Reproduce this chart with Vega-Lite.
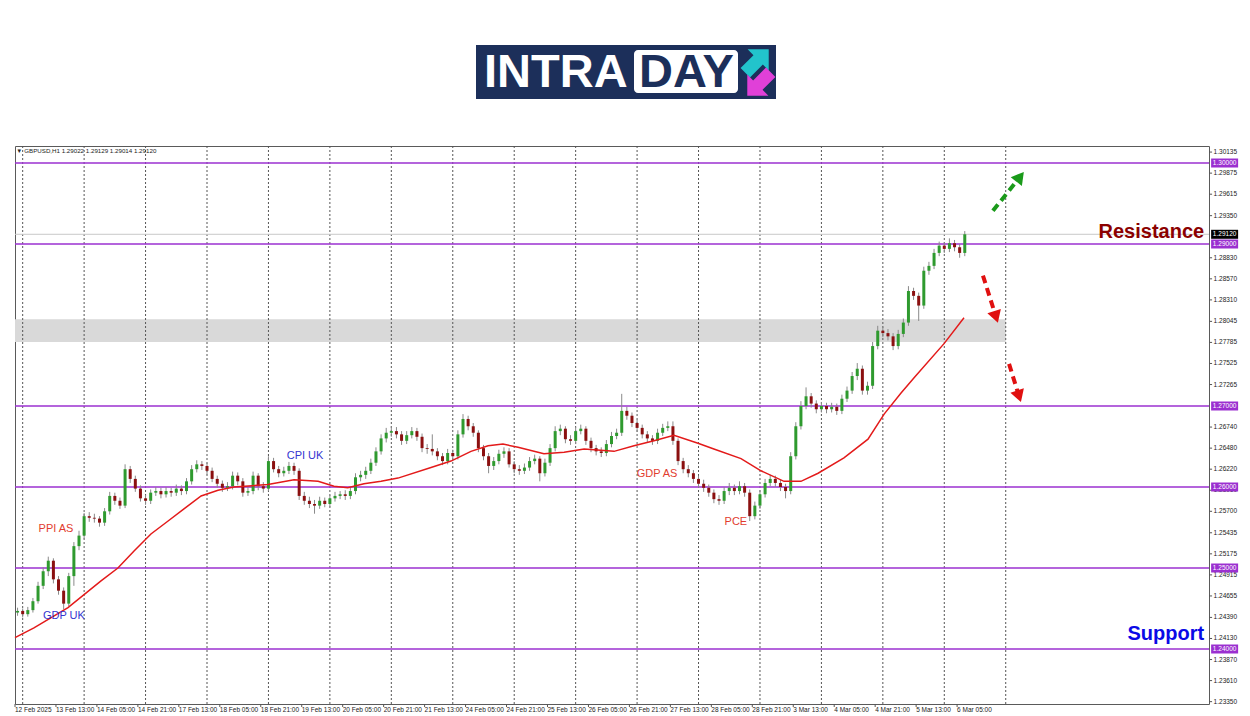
{
"$schema":"https://vega.github.io/schema/vega-lite/v6.json",
"background":"white",
"padding":{"left":11,"top":0,"right":0,"bottom":0},
"spacing":0,
"config":{"view":{"stroke":"#5a5a5a","strokeWidth":1},"font":"Liberation Sans"},
"datasets":{
"candles":[
{"i":1,"o":1.2445,"h":1.2451,"l":1.2441,"c":1.2447},{"i":3,"o":1.2447,"h":1.2450,"l":1.2439,"c":1.2443},{"i":5,"o":1.2443,"h":1.2452,"l":1.2440,"c":1.2448},{"i":7,"o":1.2448,"h":1.2463,"l":1.2445,"c":1.2459},{"i":9,"o":1.2459,"h":1.2483,"l":1.2456,"c":1.2478},{"i":11,"o":1.2478,"h":1.2501,"l":1.2474,"c":1.2496},{"i":13,"o":1.2496,"h":1.2514,"l":1.2490,"c":1.2509},{"i":15,"o":1.2509,"h":1.2512,"l":1.2481,"c":1.2486},{"i":17,"o":1.2486,"h":1.2490,"l":1.2467,"c":1.2472},{"i":19,"o":1.2472,"h":1.2476,"l":1.2449,"c":1.2456},
{"i":21,"o":1.2456,"h":1.2494,"l":1.2453,"c":1.2490},{"i":23,"o":1.2490,"h":1.2532,"l":1.2478,"c":1.2527},{"i":25,"o":1.2527,"h":1.2546,"l":1.2522,"c":1.2540},{"i":27,"o":1.2540,"h":1.2568,"l":1.2536,"c":1.2564},{"i":29,"o":1.2564,"h":1.2569,"l":1.2557,"c":1.2562},{"i":31,"o":1.2562,"h":1.2567,"l":1.2556,"c":1.2561},{"i":33,"o":1.2561,"h":1.2564,"l":1.2551,"c":1.2556},{"i":35,"o":1.2556,"h":1.2574,"l":1.2552,"c":1.2570},{"i":37,"o":1.2570,"h":1.2594,"l":1.2566,"c":1.2589},{"i":39,"o":1.2589,"h":1.2593,"l":1.2578,"c":1.2583},
{"i":41,"o":1.2583,"h":1.2587,"l":1.2573,"c":1.2577},{"i":43,"o":1.2577,"h":1.2628,"l":1.2574,"c":1.2622},{"i":45,"o":1.2622,"h":1.2626,"l":1.2605,"c":1.2610},{"i":47,"o":1.2610,"h":1.2614,"l":1.2594,"c":1.2598},{"i":49,"o":1.2598,"h":1.2602,"l":1.2582,"c":1.2586},{"i":51,"o":1.2586,"h":1.2590,"l":1.2578,"c":1.2583},{"i":53,"o":1.2583,"h":1.2597,"l":1.2579,"c":1.2593},{"i":55,"o":1.2593,"h":1.2600,"l":1.2589,"c":1.2595},{"i":57,"o":1.2595,"h":1.2599,"l":1.2586,"c":1.2591},{"i":59,"o":1.2591,"h":1.2600,"l":1.2587,"c":1.2595},
{"i":61,"o":1.2595,"h":1.2599,"l":1.2588,"c":1.2593},{"i":63,"o":1.2593,"h":1.2603,"l":1.2589,"c":1.2598},{"i":65,"o":1.2598,"h":1.2602,"l":1.2590,"c":1.2595},{"i":67,"o":1.2595,"h":1.2611,"l":1.2591,"c":1.2607},{"i":69,"o":1.2607,"h":1.2627,"l":1.2603,"c":1.2622},{"i":71,"o":1.2622,"h":1.2633,"l":1.2618,"c":1.2628},{"i":73,"o":1.2628,"h":1.2632,"l":1.2621,"c":1.2626},{"i":75,"o":1.2626,"h":1.2630,"l":1.2615,"c":1.2620},{"i":77,"o":1.2620,"h":1.2624,"l":1.2606,"c":1.2610},{"i":79,"o":1.2610,"h":1.2614,"l":1.2599,"c":1.2604},
{"i":81,"o":1.2604,"h":1.2608,"l":1.2594,"c":1.2599},{"i":83,"o":1.2599,"h":1.2606,"l":1.2595,"c":1.2601},{"i":85,"o":1.2601,"h":1.2619,"l":1.2597,"c":1.2614},{"i":87,"o":1.2614,"h":1.2618,"l":1.2602,"c":1.2607},{"i":89,"o":1.2607,"h":1.2611,"l":1.2588,"c":1.2593},{"i":91,"o":1.2593,"h":1.2600,"l":1.2589,"c":1.2595},{"i":93,"o":1.2595,"h":1.2619,"l":1.2591,"c":1.2614},{"i":95,"o":1.2614,"h":1.2617,"l":1.2596,"c":1.2601},{"i":97,"o":1.2601,"h":1.2606,"l":1.2593,"c":1.2598},{"i":99,"o":1.2598,"h":1.2638,"l":1.2595,"c":1.2632},
{"i":101,"o":1.2632,"h":1.2636,"l":1.2618,"c":1.2622},{"i":103,"o":1.2622,"h":1.2626,"l":1.2612,"c":1.2617},{"i":105,"o":1.2617,"h":1.2625,"l":1.2613,"c":1.2620},{"i":107,"o":1.2620,"h":1.2631,"l":1.2616,"c":1.2626},{"i":109,"o":1.2626,"h":1.2630,"l":1.2615,"c":1.2620},{"i":111,"o":1.2620,"h":1.2623,"l":1.2584,"c":1.2589},{"i":113,"o":1.2589,"h":1.2594,"l":1.2578,"c":1.2583},{"i":115,"o":1.2583,"h":1.2588,"l":1.2574,"c":1.2579},{"i":117,"o":1.2579,"h":1.2584,"l":1.2567,"c":1.2577},{"i":119,"o":1.2577,"h":1.2588,"l":1.2573,"c":1.2583},
{"i":121,"o":1.2583,"h":1.2587,"l":1.2575,"c":1.2579},{"i":123,"o":1.2579,"h":1.2590,"l":1.2575,"c":1.2586},{"i":125,"o":1.2586,"h":1.2594,"l":1.2582,"c":1.2589},{"i":127,"o":1.2589,"h":1.2595,"l":1.2585,"c":1.2591},{"i":129,"o":1.2591,"h":1.2596,"l":1.2584,"c":1.2589},{"i":131,"o":1.2589,"h":1.2600,"l":1.2585,"c":1.2595},{"i":133,"o":1.2595,"h":1.2617,"l":1.2591,"c":1.2612},{"i":135,"o":1.2612,"h":1.2620,"l":1.2607,"c":1.2615},{"i":137,"o":1.2615,"h":1.2625,"l":1.2610,"c":1.2620},{"i":139,"o":1.2620,"h":1.2635,"l":1.2616,"c":1.2630},
{"i":141,"o":1.2630,"h":1.2649,"l":1.2626,"c":1.2644},{"i":143,"o":1.2644,"h":1.2665,"l":1.2640,"c":1.2660},{"i":145,"o":1.2660,"h":1.2673,"l":1.2655,"c":1.2667},{"i":147,"o":1.2667,"h":1.2675,"l":1.2662,"c":1.2669},{"i":149,"o":1.2669,"h":1.2674,"l":1.2660,"c":1.2665},{"i":151,"o":1.2665,"h":1.2669,"l":1.2652,"c":1.2657},{"i":153,"o":1.2657,"h":1.2669,"l":1.2653,"c":1.2664},{"i":155,"o":1.2664,"h":1.2674,"l":1.2660,"c":1.2669},{"i":157,"o":1.2669,"h":1.2673,"l":1.2657,"c":1.2662},{"i":159,"o":1.2662,"h":1.2666,"l":1.2643,"c":1.2648},
{"i":161,"o":1.2648,"h":1.2653,"l":1.2641,"c":1.2647},{"i":163,"o":1.2647,"h":1.2665,"l":1.2639,"c":1.2644},{"i":165,"o":1.2644,"h":1.2648,"l":1.2633,"c":1.2638},{"i":167,"o":1.2638,"h":1.2642,"l":1.2627,"c":1.2632},{"i":169,"o":1.2632,"h":1.2647,"l":1.2628,"c":1.2642},{"i":171,"o":1.2642,"h":1.2646,"l":1.2633,"c":1.2638},{"i":173,"o":1.2638,"h":1.2670,"l":1.2634,"c":1.2665},{"i":175,"o":1.2665,"h":1.2690,"l":1.2661,"c":1.2684},{"i":177,"o":1.2684,"h":1.2688,"l":1.2670,"c":1.2675},{"i":179,"o":1.2675,"h":1.2679,"l":1.2662,"c":1.2667},
{"i":181,"o":1.2667,"h":1.2670,"l":1.2643,"c":1.2648},{"i":183,"o":1.2648,"h":1.2652,"l":1.2633,"c":1.2638},{"i":185,"o":1.2638,"h":1.2642,"l":1.2617,"c":1.2626},{"i":187,"o":1.2626,"h":1.2637,"l":1.2621,"c":1.2632},{"i":189,"o":1.2632,"h":1.2646,"l":1.2628,"c":1.2641},{"i":191,"o":1.2641,"h":1.2649,"l":1.2636,"c":1.2644},{"i":193,"o":1.2644,"h":1.2648,"l":1.2624,"c":1.2628},{"i":195,"o":1.2628,"h":1.2632,"l":1.2617,"c":1.2622},{"i":197,"o":1.2622,"h":1.2627,"l":1.2615,"c":1.2620},{"i":199,"o":1.2620,"h":1.2629,"l":1.2616,"c":1.2624},
{"i":201,"o":1.2624,"h":1.2637,"l":1.2620,"c":1.2632},{"i":203,"o":1.2632,"h":1.2640,"l":1.2628,"c":1.2635},{"i":205,"o":1.2635,"h":1.2638,"l":1.2607,"c":1.2617},{"i":207,"o":1.2617,"h":1.2635,"l":1.2613,"c":1.2630},{"i":209,"o":1.2630,"h":1.2653,"l":1.2626,"c":1.2648},{"i":211,"o":1.2648,"h":1.2675,"l":1.2644,"c":1.2669},{"i":213,"o":1.2669,"h":1.2677,"l":1.2664,"c":1.2672},{"i":215,"o":1.2672,"h":1.2675,"l":1.2654,"c":1.2659},{"i":217,"o":1.2659,"h":1.2664,"l":1.2652,"c":1.2657},{"i":219,"o":1.2657,"h":1.2674,"l":1.2653,"c":1.2669},
{"i":221,"o":1.2669,"h":1.2677,"l":1.2665,"c":1.2672},{"i":223,"o":1.2672,"h":1.2675,"l":1.2652,"c":1.2657},{"i":225,"o":1.2657,"h":1.2661,"l":1.2643,"c":1.2648},{"i":227,"o":1.2648,"h":1.2652,"l":1.2639,"c":1.2644},{"i":229,"o":1.2644,"h":1.2649,"l":1.2637,"c":1.2642},{"i":231,"o":1.2642,"h":1.2658,"l":1.2638,"c":1.2653},{"i":233,"o":1.2653,"h":1.2668,"l":1.2649,"c":1.2663},{"i":235,"o":1.2663,"h":1.2672,"l":1.2659,"c":1.2667},{"i":237,"o":1.2667,"h":1.2715,"l":1.2663,"c":1.2694},{"i":239,"o":1.2694,"h":1.2699,"l":1.2683,"c":1.2688},
{"i":241,"o":1.2688,"h":1.2692,"l":1.2674,"c":1.2679},{"i":243,"o":1.2679,"h":1.2683,"l":1.2668,"c":1.2673},{"i":245,"o":1.2673,"h":1.2677,"l":1.2660,"c":1.2665},{"i":247,"o":1.2665,"h":1.2669,"l":1.2655,"c":1.2660},{"i":249,"o":1.2660,"h":1.2664,"l":1.2652,"c":1.2657},{"i":251,"o":1.2657,"h":1.2672,"l":1.2653,"c":1.2667},{"i":253,"o":1.2667,"h":1.2678,"l":1.2663,"c":1.2673},{"i":255,"o":1.2673,"h":1.2681,"l":1.2669,"c":1.2675},{"i":257,"o":1.2675,"h":1.2681,"l":1.2652,"c":1.2657},{"i":259,"o":1.2657,"h":1.2660,"l":1.2627,"c":1.2632},
{"i":261,"o":1.2632,"h":1.2636,"l":1.2617,"c":1.2622},{"i":263,"o":1.2622,"h":1.2627,"l":1.2612,"c":1.2617},{"i":265,"o":1.2617,"h":1.2621,"l":1.2605,"c":1.2610},{"i":267,"o":1.2610,"h":1.2614,"l":1.2599,"c":1.2604},{"i":269,"o":1.2604,"h":1.2609,"l":1.2594,"c":1.2599},{"i":271,"o":1.2599,"h":1.2603,"l":1.2588,"c":1.2593},{"i":273,"o":1.2593,"h":1.2597,"l":1.2580,"c":1.2585},{"i":275,"o":1.2585,"h":1.2590,"l":1.2578,"c":1.2583},{"i":277,"o":1.2583,"h":1.2600,"l":1.2579,"c":1.2595},{"i":279,"o":1.2595,"h":1.2605,"l":1.2590,"c":1.2599},
{"i":281,"o":1.2599,"h":1.2603,"l":1.2590,"c":1.2595},{"i":283,"o":1.2595,"h":1.2607,"l":1.2591,"c":1.2601},{"i":285,"o":1.2601,"h":1.2605,"l":1.2588,"c":1.2593},{"i":287,"o":1.2593,"h":1.2597,"l":1.2558,"c":1.2564},{"i":289,"o":1.2564,"h":1.2582,"l":1.2560,"c":1.2577},{"i":291,"o":1.2577,"h":1.2596,"l":1.2573,"c":1.2591},{"i":293,"o":1.2591,"h":1.2610,"l":1.2587,"c":1.2605},{"i":295,"o":1.2605,"h":1.2615,"l":1.2601,"c":1.2610},{"i":297,"o":1.2610,"h":1.2614,"l":1.2600,"c":1.2605},{"i":299,"o":1.2605,"h":1.2609,"l":1.2595,"c":1.2600},
{"i":301,"o":1.2600,"h":1.2604,"l":1.2586,"c":1.2595},{"i":303,"o":1.2595,"h":1.2643,"l":1.2591,"c":1.2638},{"i":305,"o":1.2638,"h":1.2680,"l":1.2634,"c":1.2675},{"i":307,"o":1.2675,"h":1.2706,"l":1.2671,"c":1.2700},{"i":309,"o":1.2700,"h":1.2723,"l":1.2696,"c":1.2712},{"i":311,"o":1.2712,"h":1.2716,"l":1.2698,"c":1.2703},{"i":313,"o":1.2703,"h":1.2707,"l":1.2691,"c":1.2696},{"i":315,"o":1.2696,"h":1.2705,"l":1.2692,"c":1.2700},{"i":317,"o":1.2700,"h":1.2704,"l":1.2691,"c":1.2696},{"i":319,"o":1.2696,"h":1.2704,"l":1.2692,"c":1.2699},
{"i":321,"o":1.2699,"h":1.2703,"l":1.2689,"c":1.2694},{"i":323,"o":1.2694,"h":1.2714,"l":1.2690,"c":1.2709},{"i":325,"o":1.2709,"h":1.2724,"l":1.2705,"c":1.2719},{"i":327,"o":1.2719,"h":1.2742,"l":1.2715,"c":1.2737},{"i":329,"o":1.2737,"h":1.2753,"l":1.2732,"c":1.2746},{"i":331,"o":1.2746,"h":1.2750,"l":1.2714,"c":1.2719},{"i":333,"o":1.2719,"h":1.2730,"l":1.2714,"c":1.2725},{"i":335,"o":1.2725,"h":1.2779,"l":1.2721,"c":1.2774},{"i":337,"o":1.2774,"h":1.2799,"l":1.2770,"c":1.2793},{"i":339,"o":1.2793,"h":1.2798,"l":1.2785,"c":1.2790},
{"i":341,"o":1.2790,"h":1.2795,"l":1.2781,"c":1.2786},{"i":343,"o":1.2786,"h":1.2790,"l":1.2769,"c":1.2774},{"i":345,"o":1.2774,"h":1.2794,"l":1.2770,"c":1.2789},{"i":347,"o":1.2789,"h":1.2808,"l":1.2785,"c":1.2803},{"i":349,"o":1.2803,"h":1.2848,"l":1.2799,"c":1.2842},{"i":351,"o":1.2842,"h":1.2846,"l":1.2831,"c":1.2836},{"i":353,"o":1.2836,"h":1.2840,"l":1.2805,"c":1.2824},{"i":355,"o":1.2824,"h":1.2872,"l":1.2820,"c":1.2867},{"i":357,"o":1.2867,"h":1.2878,"l":1.2862,"c":1.2873},{"i":359,"o":1.2873,"h":1.2894,"l":1.2869,"c":1.2889},
{"i":361,"o":1.2889,"h":1.2903,"l":1.2885,"c":1.2898},{"i":363,"o":1.2898,"h":1.2902,"l":1.2889,"c":1.2894},{"i":365,"o":1.2894,"h":1.2907,"l":1.2890,"c":1.2901},{"i":367,"o":1.2901,"h":1.2905,"l":1.2891,"c":1.2896},{"i":369,"o":1.2896,"h":1.2900,"l":1.2883,"c":1.2889},{"i":371,"o":1.2889,"h":1.2916,"l":1.2885,"c":1.2912}
],
"ma":[
{"i":0,"m":1.2414},{"i":7.4,"m":1.2426},{"i":20.7,"m":1.2451},{"i":33.6,"m":1.2484},{"i":40.2,"m":1.2500},{"i":46.5,"m":1.2521},{"i":53.1,"m":1.2542},{"i":59.8,"m":1.2558},{"i":66,"m":1.2573},{"i":72.7,"m":1.2589},{"i":79.3,"m":1.2596},{"i":85.5,"m":1.2600},{"i":98.8,"m":1.2603},{"i":109,"m":1.2609},{"i":118.4,"m":1.2607},{"i":124.6,"m":1.2601},{"i":130,"m":1.2599},{"i":136.3,"m":1.2604},{"i":143,"m":1.2607},{"i":149.6,"m":1.2611},{"i":162.5,"m":1.2624},{"i":170.3,"m":1.2632},{"i":178.1,"m":1.2644},{"i":184.8,"m":1.2651},{"i":190.6,"m":1.2653},{"i":196.5,"m":1.2649},{"i":206.6,"m":1.2641},{"i":214.5,"m":1.2643},{"i":222.3,"m":1.2647},{"i":234,"m":1.2644},{"i":241.8,"m":1.2651},{"i":249.6,"m":1.2657},{"i":257.4,"m":1.2664},{"i":266.8,"m":1.2654},{"i":273,"m":1.2647},{"i":283.6,"m":1.2635},{"i":291.4,"m":1.2620},{"i":300.4,"m":1.2607},{"i":307,"m":1.2607},{"i":313.7,"m":1.2617},{"i":323.8,"m":1.2636},{"i":333.2,"m":1.2659},{"i":339.5,"m":1.2690},{"i":346.1,"m":1.2716},{"i":351.2,"m":1.2735},{"i":362.9,"m":1.2777},{"i":370.7,"m":1.2809}
],
"levels":[{"p":1.30},{"p":1.29},{"p":1.27},{"p":1.26},{"p":1.25},{"p":1.24}],
"boxes":[{"p":1.30,"t":"1.30000","k":"lv"},{"p":1.2912,"t":"1.29120","k":"cur"},{"p":1.29,"t":"1.29000","k":"lv"},{"p":1.27,"t":"1.27000","k":"lv"},{"p":1.26,"t":"1.26000","k":"lv"},{"p":1.25,"t":"1.25000","k":"lv"},{"p":1.24,"t":"1.24000","k":"lv"}],
"yt":[{"p":1.30135},{"p":1.29875},{"p":1.29615},{"p":1.2935},{"p":1.2883},{"p":1.2857},{"p":1.2831},{"p":1.28045},{"p":1.27785},{"p":1.27525},{"p":1.27265},{"p":1.2674},{"p":1.2648},{"p":1.2622},{"p":1.2596},{"p":1.257},{"p":1.25435},{"p":1.25175},{"p":1.24915},{"p":1.24655},{"p":1.2439},{"p":1.2413},{"p":1.2387},{"p":1.2361},{"p":1.2335}],
"xt":[{"i":0,"t":"12 Feb 2025"},{"i":16,"t":"13 Feb 13:00"},{"i":32,"t":"14 Feb 05:00"},{"i":48,"t":"14 Feb 21:00"},{"i":64,"t":"17 Feb 13:00"},{"i":80,"t":"18 Feb 05:00"},{"i":96,"t":"18 Feb 21:00"},{"i":112,"t":"19 Feb 13:00"},{"i":128,"t":"20 Feb 05:00"},{"i":144,"t":"20 Feb 21:00"},{"i":160,"t":"21 Feb 13:00"},{"i":176,"t":"24 Feb 05:00"},{"i":192,"t":"24 Feb 21:00"},{"i":208,"t":"25 Feb 13:00"},{"i":224,"t":"26 Feb 05:00"},{"i":240,"t":"26 Feb 21:00"},{"i":256,"t":"27 Feb 13:00"},{"i":272,"t":"28 Feb 05:00"},{"i":288,"t":"28 Feb 21:00"},{"i":304,"t":"3 Mar 13:00"},{"i":320,"t":"4 Mar 05:00"},{"i":336,"t":"4 Mar 21:00"},{"i":352,"t":"5 Mar 13:00"},{"i":368,"t":"6 Mar 05:00"}],
"grid":[{"i":3},{"i":27},{"i":51},{"i":75},{"i":99},{"i":123},{"i":147},{"i":171},{"i":195},{"i":219},{"i":243},{"i":267},{"i":291},{"i":315},{"i":339},{"i":363},{"i":387}],
"ann":[{"i":16,"p":1.2548,"t":"PPI AS","g":"r"},{"i":19.1,"p":1.2441,"t":"GDP UK","g":"b"},{"i":113.3,"p":1.2638,"t":"CPI UK","g":"b"},{"i":250.8,"p":1.2616,"t":"GDP AS","g":"r"},{"i":281.6,"p":1.2557,"t":"PCE","g":"r"}],
"big":[{"i":464.5,"p":1.2915,"t":"Resistance","g":"res"},{"i":464.5,"p":1.2418,"t":"Support","g":"sup"}],
"up":[{"x":382.0,"y":1.2941,"x2":392.6,"y2":1.2983}],
"down":[{"x":378.1,"y":1.2861,"x2":383.2,"y2":1.2810},{"x":388.3,"y":1.2752,"x2":392.2,"y2":1.2712}]
},
"vconcat":[
{"width":1194,"height":145,"view":{"stroke":null},
"layer":[
{"data":{"values":[{}]},"mark":{"type":"rect","color":"#1c2f5a"},
"encoding":{"x":{"datum":461,"type":"quantitative","scale":{"domain":[0,1194],"nice":false,"zero":false,"padding":0},"axis":null},"x2":{"datum":761},"y":{"datum":45,"type":"quantitative","scale":{"domain":[145,0],"nice":false,"zero":false,"padding":0},"axis":null},"y2":{"datum":99}}},
{"data":{"values":[{}]},"mark":{"type":"rect","color":"#ffffff","cornerRadius":4},
"encoding":{"x":{"datum":619,"type":"quantitative","axis":null},"x2":{"datum":723},"y":{"datum":50,"type":"quantitative","axis":null},"y2":{"datum":93}}},
{"data":{"values":[{}]},"mark":{"type":"text","text":"INTRA","align":"left","baseline":"alphabetic","fontSize":47,"fontWeight":"bold","color":"#ffffff","font":"Liberation Sans"},
"encoding":{"x":{"datum":469,"type":"quantitative","axis":null},"y":{"datum":87,"type":"quantitative","axis":null}}},
{"data":{"values":[{}]},"mark":{"type":"text","text":"DAY","align":"left","baseline":"alphabetic","fontSize":47,"fontWeight":"bold","color":"#1c2f5a","font":"Liberation Sans"},
"encoding":{"x":{"datum":624,"type":"quantitative","axis":null},"y":{"datum":87,"type":"quantitative","axis":null}}},
{"data":{"values":[{}]},"mark":{"type":"point","filled":true,"opacity":1,"color":"#22c4cc","size":1100,"angle":45,"shape":"M-0.4,1L-0.4,-0.1L-0.9,-0.1L0,-1L0.9,-0.1L0.4,-0.1L0.4,1Z"},
"encoding":{"x":{"datum":742,"type":"quantitative","axis":null},"y":{"datum":61,"type":"quantitative","axis":null}}},
{"data":{"values":[{}]},"mark":{"type":"point","filled":true,"opacity":1,"color":"#e040d8","size":1100,"angle":225,"shape":"M-0.4,1L-0.4,-0.1L-0.9,-0.1L0,-1L0.9,-0.1L0.4,-0.1L0.4,1Z"},
"encoding":{"x":{"datum":744,"type":"quantitative","axis":null},"y":{"datum":84,"type":"quantitative","axis":null}}}
]},
{"width":1194,"height":558,
"layer":[
{"data":{"values":[{}]},"mark":{"type":"rect","color":"#d9d9d9"},
"encoding":{
"x":{"datum":0,"type":"quantitative","scale":{"domain":[0,466.4],"nice":false,"zero":false,"padding":0},"axis":null},
"x2":{"datum":387},
"y":{"datum":1.2779,"type":"quantitative","scale":{"domain":[1.23321,1.3021],"nice":false,"zero":false,"padding":0},"axis":null},
"y2":{"datum":1.2807}}},
{"data":{"name":"grid"},"mark":{"type":"rule","color":"#555555","strokeDash":[2,2],"strokeWidth":1},
"encoding":{"x":{"field":"i","type":"quantitative","axis":null}}},
{"data":{"values":[{}]},"mark":{"type":"rule","color":"#c8c8c8","strokeWidth":1},
"encoding":{"y":{"datum":1.2912,"type":"quantitative","axis":null}}},
{"data":{"name":"levels"},"mark":{"type":"rule","color":"#9b30d0","strokeWidth":1.6},
"encoding":{"y":{"field":"p","type":"quantitative","axis":null}}},
{"data":{"name":"candles"},"mark":{"type":"rule","color":"#8a8a8a","strokeWidth":1},
"encoding":{"x":{"field":"i","type":"quantitative","axis":null},"y":{"field":"l","type":"quantitative","axis":null},"y2":{"field":"h"}}},
{"data":{"name":"candles"},"mark":{"type":"bar","width":3},
"encoding":{"x":{"field":"i","type":"quantitative","axis":null},"y":{"field":"o","type":"quantitative","axis":null},"y2":{"field":"c"},
"color":{"condition":{"test":"datum.c >= datum.o","value":"#2f9a2f"},"value":"#8b1010"}}},
{"data":{"name":"ma"},"mark":{"type":"line","color":"#e31a1a","strokeWidth":1.5},
"encoding":{"x":{"field":"i","type":"quantitative","axis":null},"y":{"field":"m","type":"quantitative","axis":null}}},
{"data":{"name":"ann"},"mark":{"type":"text","fontSize":11,"font":"Liberation Sans","align":"center","baseline":"middle"},
"encoding":{"x":{"field":"i","type":"quantitative","axis":null},"y":{"field":"p","type":"quantitative","axis":null},"text":{"field":"t"},
"color":{"field":"g","type":"nominal","scale":{"domain":["r","b","res","sup"],"range":["#e23c2e","#3434d0","#8b0000","#0a0ae6"]},"legend":null}}},
{"data":{"name":"big"},"mark":{"type":"text","fontSize":20,"fontWeight":"bold","font":"Liberation Sans","align":"right","baseline":"middle"},
"encoding":{"x":{"field":"i","type":"quantitative","axis":null},"y":{"field":"p","type":"quantitative","axis":null},"text":{"field":"t"},
"color":{"field":"g","type":"nominal","legend":null}}},
{"data":{"name":"up"},"mark":{"type":"rule","color":"#1a9a1a","strokeWidth":4,"strokeDash":[8,5]},
"encoding":{"x":{"field":"x","type":"quantitative","axis":null},"y":{"field":"y","type":"quantitative","axis":null},"x2":{"field":"x2"},"y2":{"field":"y2"}}},
{"data":{"name":"up"},"mark":{"type":"point","shape":"triangle-up","filled":true,"opacity":1,"color":"#1a9a1a","size":200,"angle":38},
"encoding":{"x":{"field":"x2","type":"quantitative","axis":null},"y":{"field":"y2","type":"quantitative","axis":null}}},
{"data":{"name":"down"},"mark":{"type":"rule","color":"#e01010","strokeWidth":4,"strokeDash":[8,5]},
"encoding":{"x":{"field":"x","type":"quantitative","axis":null},"y":{"field":"y","type":"quantitative","axis":null},"x2":{"field":"x2"},"y2":{"field":"y2"}}},
{"data":{"name":"down"},"mark":{"type":"point","shape":"triangle-up","filled":true,"opacity":1,"color":"#e01010","size":200,"angle":162},
"encoding":{"x":{"field":"x2","type":"quantitative","axis":null},"y":{"field":"y2","type":"quantitative","axis":null}}},
{"data":{"name":"yt"},"mark":{"type":"rule","color":"#555555","strokeWidth":1},
"encoding":{"x":{"datum":466.4,"type":"quantitative","axis":null},"x2":{"datum":467.6},"y":{"field":"p","type":"quantitative","axis":null}}},
{"data":{"name":"yt"},"mark":{"type":"text","fontSize":6.5,"font":"Liberation Sans","color":"#222222","align":"left","baseline":"middle"},
"encoding":{"x":{"datum":468.2,"type":"quantitative","axis":null},"y":{"field":"p","type":"quantitative","axis":null},"text":{"field":"p","type":"quantitative","format":".5f"}}},
{"data":{"name":"xt"},"mark":{"type":"rule","color":"#555555","strokeWidth":1},
"encoding":{"x":{"field":"i","type":"quantitative","axis":null},"y":{"datum":1.23321,"type":"quantitative","axis":null},"y2":{"datum":1.23284}}},
{"data":{"name":"xt"},"mark":{"type":"text","fontSize":6.5,"font":"Liberation Sans","color":"#222222","align":"left","baseline":"middle"},
"encoding":{"x":{"field":"i","type":"quantitative","axis":null},"y":{"datum":1.2325,"type":"quantitative","axis":null},"text":{"field":"t"}}},
{"data":{"name":"boxes"},"mark":{"type":"point","filled":true,"opacity":1,"size":324,"shape":"M-1.5,-0.5H1.5V0.5H-1.5Z"},
"encoding":{"x":{"datum":472.5,"type":"quantitative","axis":null},"y":{"field":"p","type":"quantitative","axis":null},
"fill":{"field":"k","type":"nominal","scale":{"domain":["lv","cur"],"range":["#9b30d0","#000000"]},"legend":null}}},
{"data":{"name":"boxes"},"mark":{"type":"text","fontSize":6.5,"font":"Liberation Sans","color":"#ffffff","align":"center","baseline":"middle"},
"encoding":{"x":{"datum":472.5,"type":"quantitative","axis":null},"y":{"field":"p","type":"quantitative","axis":null},"text":{"field":"t"}}},
{"data":{"values":[{}]},"mark":{"type":"text","text":"▾","fontSize":7,"font":"DejaVu Sans","color":"#222222","align":"left","baseline":"middle"},
"encoding":{"x":{"datum":1.0,"type":"quantitative","axis":null},"y":{"datum":1.30148,"type":"quantitative","axis":null}}},
{"data":{"values":[{}]},"mark":{"type":"text","text":"GBPUSD,H1  1.29022 1.29129 1.29014 1.29120","fontSize":6.2,"font":"Liberation Sans","color":"#222222","align":"left","baseline":"middle"},
"encoding":{"x":{"datum":3.6,"type":"quantitative","axis":null},"y":{"datum":1.30148,"type":"quantitative","axis":null}}}
]}
]
}
